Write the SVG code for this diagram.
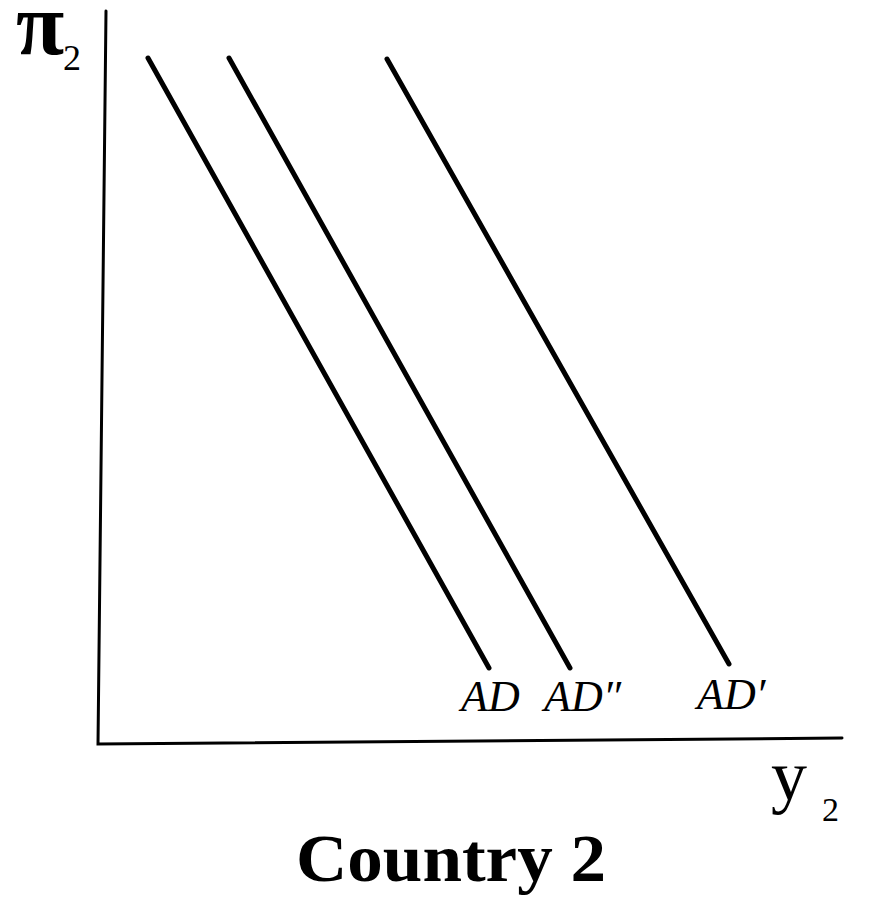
<svg xmlns="http://www.w3.org/2000/svg" width="870" height="909" viewBox="0 0 870 909">
<style>
.ax{stroke:#000;stroke-width:3;fill:none;stroke-linecap:round}
.ad{stroke:#000;stroke-width:5;fill:none;stroke-linecap:round}
.lbl{font-family:"Liberation Serif",serif;font-style:italic;font-size:44px;fill:#000}
.sym{font-family:"Liberation Serif",serif;fill:#000}
</style>
<rect width="870" height="909" fill="#fff"/>
<g id="connectors">
<path class="ax" d="M106,11 L98,744 L842,738"/>
<line class="ad" x1="148" y1="58" x2="489" y2="668"/>
<line class="ad" x1="229" y1="58" x2="570" y2="668"/>
<line class="ad" x1="387" y1="59" x2="729" y2="664"/>
</g>
<g id="axis-pi"><text class="sym" x="16" y="54" font-size="88" font-weight="bold">π</text><text class="sym" x="63" y="70" font-size="36">2</text></g>
<g id="axis-y"><text class="sym" x="771" y="800" font-size="72">y</text><text class="sym" x="822" y="821" font-size="34">2</text></g>
<g id="ad"><text class="lbl" x="461" y="711">AD</text></g>
<g id="ad2"><text class="lbl" x="544" y="711">AD″</text></g>
<g id="ad1"><text class="lbl" x="697" y="709">AD′</text></g>
<g id="title"><text class="sym" x="296" y="881" font-size="68" font-weight="bold" textLength="310" lengthAdjust="spacingAndGlyphs">Country 2</text></g>
</svg>
